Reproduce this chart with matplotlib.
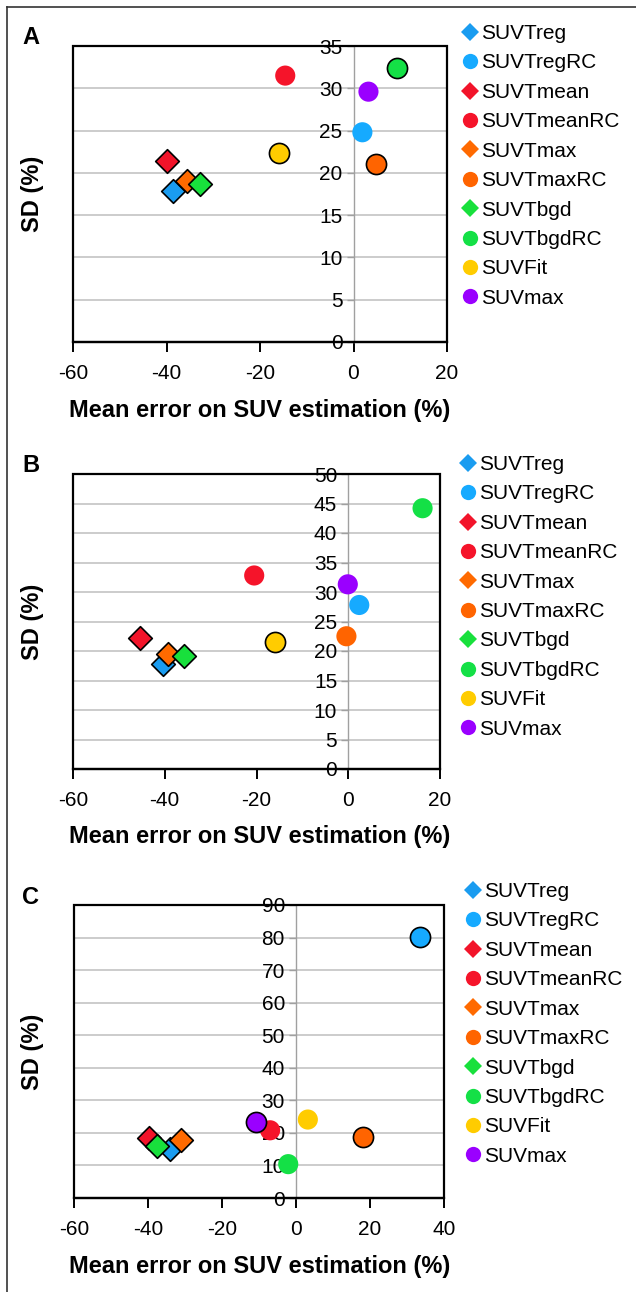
import numpy as np
import matplotlib
matplotlib.use("Agg")
import matplotlib.pyplot as plt
from matplotlib.patches import Rectangle
from matplotlib.lines import Line2D

plt.rcParams['font.family'] = ['Liberation Sans', 'DejaVu Sans']
plt.rcParams['axes.unicode_minus'] = False

# -----------------------------
# Data
# -----------------------------
methods = ["SUVTreg", "SUVTregRC", "SUVTmean", "SUVTmeanRC", "SUVTmax",
           "SUVTmaxRC", "SUVTbgd", "SUVTbgdRC", "SUVFit", "SUVmax"]
markers = ["D", "o", "D", "o", "D", "o", "D", "o", "o", "o"]
colors = ["#1a9cf0", "#16aaff", "#f2142a", "#f5142a", "#ff6a00",
          "#ff6400", "#18e03c", "#14e046", "#ffcc00", "#9a00ff"]

# panel A
err_a = [-38.7, 1.9, -39.8, -14.6, -35.7, 4.9, -32.9, 9.4, -15.9, 3.2]
sd_a = [17.9, 24.8, 21.4, 31.5, 19.0, 21.0, 18.7, 32.4, 22.3, 29.6]
edge_a = [1, 0, 1, 0, 1, 1, 1, 1, 1, 0]

# panel B
err_b = [-40.4, 2.4, -45.5, -20.5, -39.3, -0.4, -35.9, 16.2, -15.9, -0.1]
sd_b = [17.8, 27.8, 22.2, 32.8, 19.5, 22.5, 19.1, 44.2, 21.5, 31.3]
edge_b = [1, 0, 1, 0, 1, 0, 1, 0, 1, 0]

# panel C
err_c = [-34.1, 33.5, -39.7, -7.0, -31.1, 18.2, -37.5, -2.1, 3.2, -10.9]
sd_c = [15.2, 80.2, 18.5, 20.8, 17.9, 18.8, 15.9, 10.4, 24.1, 23.3]
edge_c = [1, 1, 1, 0, 1, 1, 1, 0, 0, 1]

# drawing order (circles first, diamonds on top)
order = [8, 1, 3, 5, 7, 9, 2, 0, 4, 6]

W, H = 636, 1292
fig = plt.figure(figsize=(W / 100, H / 100), dpi=100)


def px_rect(l, t, r, b):
    return [l / W, 1 - b / H, (r - l) / W, (b - t) / H]


panels = [
    dict(letter="A", err=err_a, sd=sd_a, edge=edge_a, box=(73, 46, 447, 342),
         xlim=(-60, 20), ylim=(0, 35), ystep=5, leg=(470, 32)),
    dict(letter="B", err=err_b, sd=sd_b, edge=edge_b, box=(73, 474, 440, 769),
         xlim=(-60, 20), ylim=(0, 50), ystep=5, leg=(468, 463)),
    dict(letter="C", err=err_c, sd=sd_c, edge=edge_c, box=(74, 905, 444, 1198),
         xlim=(-60, 40), ylim=(0, 90), ystep=10, leg=(473, 890)),
]

for p in panels:
    l, t, r, b = p["box"]
    ax = fig.add_axes(px_rect(l, t, r, b))
    ax.set_xlim(*p["xlim"])
    ax.set_ylim(*p["ylim"])
    ax.set_xticks(np.arange(p["xlim"][0], p["xlim"][1] + 1, 20))
    ax.set_yticks(np.arange(0, p["ylim"][1] + 1, p["ystep"]))

    # y axis crosses at x = 0 (Excel style)
    ax.spines['left'].set_position(('data', 0))
    ax.spines['left'].set_color('#a0a0a0')
    ax.spines['left'].set_linewidth(1.0)
    ax.spines['right'].set_visible(False)
    ax.spines['top'].set_visible(False)
    ax.spines['bottom'].set_color('black')
    ax.spines['bottom'].set_linewidth(1.6)
    ax.tick_params(axis='y', length=5, width=1, color='#a0a0a0', pad=3,
                   labelsize=15, labelcolor='black')
    ax.tick_params(axis='x', length=7, width=1.4, color='black', pad=9,
                   labelsize=15)
    ax.grid(axis='y', color='#c8c8c8', linewidth=1.3)
    ax.set_axisbelow(True)
    frame = Rectangle((0, 0), 1, 1, transform=ax.transAxes, fill=False,
                      edgecolor='black', linewidth=1.6, zorder=5, clip_on=False)
    ax.add_patch(frame)

    for i in order:
        ms = 210 if markers[i] == "o" else 145
        ec = 'black' if p["edge"][i] else 'none'
        ax.scatter(p["err"][i], p["sd"][i], s=ms, marker=markers[i],
                   c=colors[i], edgecolors=ec, linewidths=1.2, zorder=3,
                   clip_on=False)

    # legend
    handles = [Line2D([], [], linestyle='none', marker=m, color=c,
                      markersize=(11 if m == "o" else 9), markeredgewidth=0)
               for m, c in zip(markers, colors)]
    lx, ly = p["leg"]
    fig.legend(handles, methods, loc='upper left',
               bbox_to_anchor=((lx - 6) / W, 1 - (ly - 8) / H),
               frameon=False, fontsize=15, handlelength=0.6,
               handletextpad=0.2, labelspacing=0.5, borderpad=0,
               borderaxespad=0)

    # labels
    fig.text(33 / W, 1 - (t + b) / 2 / H, "SD (%)", rotation=90,
             fontsize=17, fontweight='bold', ha='center', va='center')
    fig.text(260 / W, 1 - (b + 68) / H, "Mean error on SUV estimation (%)",
             fontsize=17, fontweight='bold', ha='center', va='center')
    fig.text(22 / W, 1 - (t - 8) / H, p["letter"], fontsize=17,
             fontweight='bold', ha='left', va='center')

# outer border of the figure
fig.add_artist(Line2D([7 / W, 7 / W], [0, 1 - 7 / H], color='#333333',
                      linewidth=1.2, transform=fig.transFigure))
fig.add_artist(Line2D([7 / W, 1], [1 - 7 / H, 1 - 7 / H], color='#333333',
                      linewidth=1.2, transform=fig.transFigure))

fig.savefig("out.png", dpi=100)
